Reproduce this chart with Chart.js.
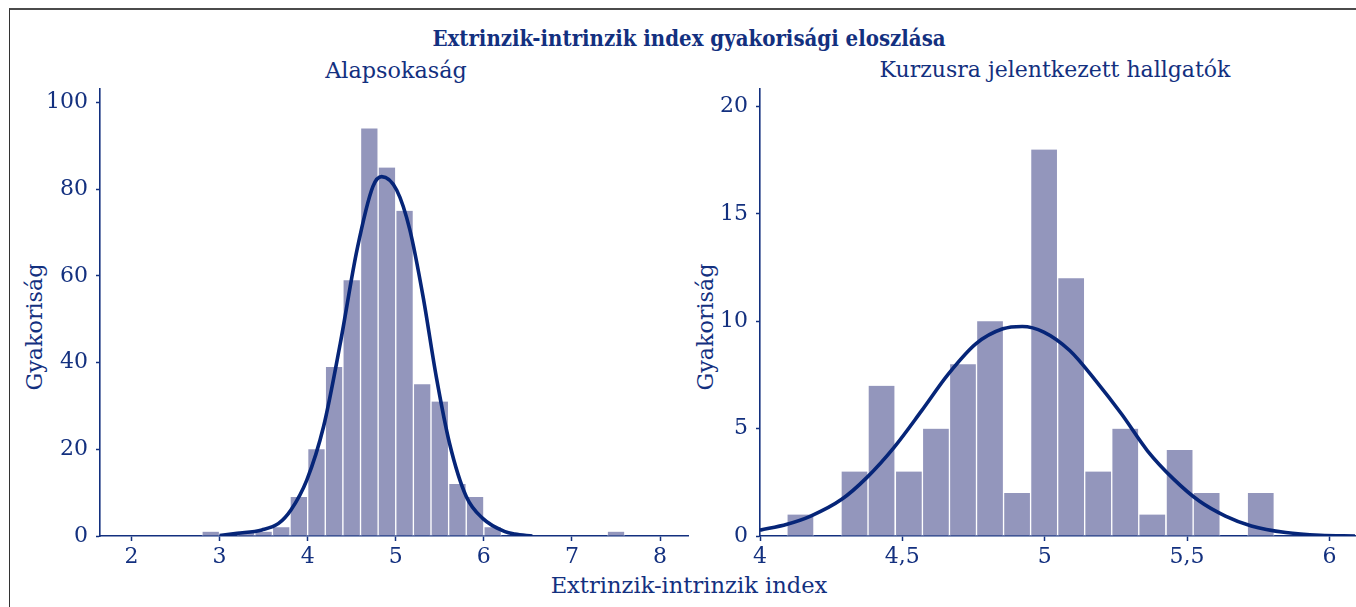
<!DOCTYPE html>
<html>
<head>
<meta charset="utf-8">
<script src="https://cdn.jsdelivr.net/npm/chart.js@4.4.0/dist/chart.umd.min.js"></script>
<style>
  html, body { margin: 0; padding: 0; background: #fff; }
  body { width: 1356px; height: 607px; position: relative; overflow: hidden; font-family: "DejaVu Serif", serif; color: #13307f; }
  #frame { position: absolute; left: 9px; top: 8px; right: -2px; bottom: -2px; border-top: 2px solid #4b4b4b; border-left: 1.5px solid #333; }
  .txt { position: absolute; white-space: nowrap; line-height: 1; color: #13307f; }
  #title { left: 289px; width: 800px; top: 27px; text-align: center; font-weight: bold; font-size: 22px; font-family: "DejaVu Serif Condensed", "DejaVu Serif", serif; font-stretch: condensed; }
  #subL { left: 96px; width: 600px; top: 59px; text-align: center; font-size: 22.3px; }
  #subR { left: 755px; width: 600px; top: 59px; text-align: center; font-size: 22px; }
  #xlab { left: 389px; width: 600px; top: 574px; text-align: center; font-size: 22.6px; }
  .ylab { top: 327px; font-size: 22.2px; transform: translate(-50%, -50%) rotate(-90deg); }
  #ylabL { left: 34px; }
  #ylabR { left: 705px; }
  canvas { position: absolute; top: 0; }
</style>
</head>
<body>
<div id="frame"></div>
<div class="txt" id="title">Extrinzik-intrinzik index gyakorisági eloszlása</div>
<div class="txt" id="subL">Alapsokaság</div>
<div class="txt" id="subR">Kurzusra jelentkezett hallgatók</div>
<div class="txt" id="xlab">Extrinzik-intrinzik index</div>
<div class="txt ylab" id="ylabL">Gyakoriság</div>
<div class="txt ylab" id="ylabR">Gyakoriság</div>
<div style="position:absolute;left:0;top:0;width:690px;height:607px;"><canvas id="cL"></canvas></div>
<div style="position:absolute;left:690px;top:0;width:666px;height:607px;"><canvas id="cR"></canvas></div>
<script>
// ---- Left panel: Alapsokaság ----
const leftBinCenters = [2.9, 3.3, 3.5, 3.7, 3.9, 4.1, 4.3, 4.5, 4.7, 4.9, 5.1, 5.3, 5.5, 5.7, 5.9, 6.1, 7.5];
const leftCounts     = [1, 1, 1, 2, 9, 20, 39, 59, 94, 85, 75, 35, 31, 12, 9, 2, 1];
const leftCurveX = [3.0, 3.2, 3.48, 3.67, 3.81, 3.99, 4.18, 4.37, 4.56, 4.74, 4.84, 5.01, 5.16, 5.31, 5.46, 5.61, 5.80, 5.99, 6.24, 6.35, 6.55];
const leftCurveY = [0.1, 0.6, 1.4, 2.9, 6.0, 12.9, 25.2, 44.4, 66, 80.6, 82.9, 79.8, 70.6, 55.2, 36.7, 21.4, 9.1, 4.0, 1.0, 0.46, 0];
const leftXTicks = [2, 3, 4, 5, 6, 7, 8];
const leftYTicks = [0, 20, 40, 60, 80, 100];

// ---- Right panel: Kurzusra jelentkezett hallgatók ----
const rightBinCenters = [4.142, 4.237, 4.332, 4.427, 4.523, 4.618, 4.713, 4.808, 4.903, 4.998, 5.093, 5.188, 5.283, 5.378, 5.474, 5.569, 5.664, 5.759];
const rightCounts     = [1, 0, 3, 7, 3, 5, 8, 10, 2, 18, 12, 3, 5, 1, 4, 2, 0, 2];
const rightCurveX = [4.0, 4.095, 4.178, 4.287, 4.375, 4.471, 4.568, 4.662, 4.758, 4.853, 4.921, 4.997, 5.088, 5.179, 5.27, 5.361, 5.453, 5.543, 5.635, 5.726, 5.847, 5.968, 6.09];
const rightCurveY = [0.27, 0.55, 0.93, 1.71, 2.72, 4.13, 5.84, 7.55, 8.95, 9.65, 9.76, 9.5, 8.64, 7.24, 5.68, 3.97, 2.65, 1.63, 0.93, 0.47, 0.16, 0.03, 0];
const rightXTicks = [4, 4.5, 5, 5.5, 6];
const rightXTickLabels = ["4", "4,5", "5", "5,5", "6"];
const rightYTicks = [0, 5, 10, 15, 20];

const NAVY = '#13307f';
const CURVE = '#062578';
const BAR = '#9396bc';
const tickFont = { family: 'DejaVu Serif', size: 22 };

function zip(xs, ys) { return xs.map((x, i) => ({ x: x, y: ys[i] })); }
function fixedTicks(arr) { return function (scale) { scale.ticks = arr.map(v => ({ value: v })); }; }

function makeChart(id, cfg) {
  return new Chart(document.getElementById(id), {
    type: 'bar',
    data: {
      datasets: [
        { type: 'line', data: zip(cfg.curveX, cfg.curveY), borderColor: CURVE, borderWidth: 3.6, pointRadius: 0, cubicInterpolationMode: 'monotone', fill: false, order: 0 },
        { type: 'bar', data: zip(cfg.binX, cfg.counts), backgroundColor: BAR, borderColor: '#ffffff', borderWidth: { left: 1, right: 1, top: 0, bottom: 0 }, borderSkipped: false, barPercentage: 1, categoryPercentage: 1, order: 1 }
      ]
    },
    options: {
      responsive: true, maintainAspectRatio: false, animation: false,
      layout: { padding: { left: 0, right: cfg.padRight, top: 89, bottom: 0 } },
      plugins: { legend: { display: false }, tooltip: { enabled: false }, title: { display: false } },
      scales: {
        x: {
          type: 'linear', min: cfg.xMin, max: cfg.xMax, offset: false,
          afterBuildTicks: fixedTicks(cfg.xTicks),
          afterFit: function (s) { s.height = 71; },
          grid: { display: true, drawOnChartArea: false, drawTicks: true, tickLength: 5, tickColor: NAVY, tickWidth: 1.5, offset: false },
          border: { display: true, color: NAVY, width: 1.6 },
          ticks: { color: NAVY, font: tickFont, padding: 3, maxRotation: 0, autoSkip: false,
                   callback: cfg.xLabel }
        },
        y: {
          type: 'linear', min: 0, max: cfg.yMax,
          afterBuildTicks: fixedTicks(cfg.yTicks),
          afterFit: function (s) { s.width = cfg.yWidth; },
          grid: { display: true, drawOnChartArea: false, drawTicks: true, tickLength: 4, tickColor: NAVY, tickWidth: 1.5 },
          border: { display: true, color: NAVY, width: 1.6 },
          ticks: { color: NAVY, font: tickFont, padding: 8 }
        }
      }
    }
  });
}

makeChart('cL', {
  binX: leftBinCenters, counts: leftCounts, curveX: leftCurveX, curveY: leftCurveY,
  xMin: 1.643, xMax: 8.317, yMax: 103.1, xTicks: leftXTicks, yTicks: leftYTicks,
  yWidth: 100, padRight: 2,
  xLabel: function (v) { return String(v); }
});
makeChart('cR', {
  binX: rightBinCenters, counts: rightCounts, curveX: rightCurveX, curveY: rightCurveY,
  xMin: 4.0, xMax: 6.09, yMax: 20.82, xTicks: rightXTicks, yTicks: rightYTicks,
  yWidth: 70, padRight: 1,
  xLabel: function (v) { const i = rightXTicks.indexOf(v); return i >= 0 ? rightXTickLabels[i] : String(v); }
});
</script>
</body>
</html>
